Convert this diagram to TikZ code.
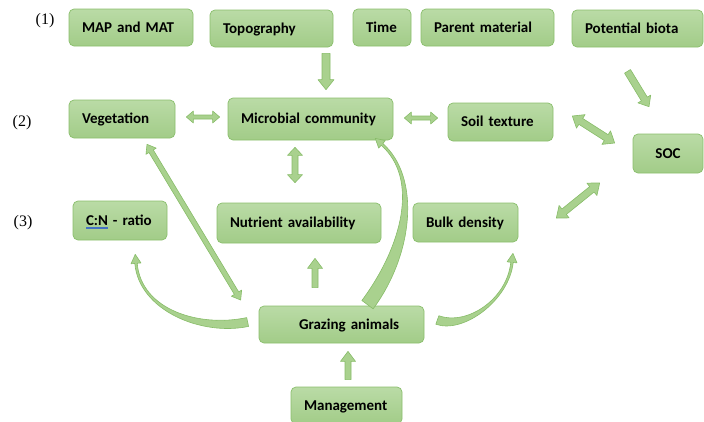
\documentclass[tikz,border=0pt]{standalone}
\usepackage{fontspec}
\setmainfont{Carlito}
\newfontfamily\levelfont{Liberation Serif}
\usepackage{tikz}
\usetikzlibrary{calc}
\definecolor{boxtop}{RGB}{186,219,166}
\definecolor{boxbottom}{RGB}{162,204,136}
\definecolor{boxline}{RGB}{138,190,108}
\definecolor{arrowfill}{RGB}{169,209,142}
\definecolor{arrowline}{RGB}{135,188,104}
\definecolor{spellblue}{RGB}{68,114,196}
\newcommand{\spellmark}[1]{\setbox0=\hbox{#1}\rlap{\color{spellblue}\rule[-2pt]{\wd0}{0.5pt}}\rlap{\color{spellblue}\rule[-3.6pt]{\wd0}{0.5pt}}\box0\relax}
% straight block arrow: from, to, half shaft, half head, head length
\newcommand{\singlearrow}[5]{%
  \coordinate (neckb) at ($(#2)!#5!(#1)$);
  \filldraw[arrowbody] ($(#1)!#3!90:(#2)$) -- ($(neckb)!#3!90:(#2)$) -- ($(neckb)!#4!90:(#2)$) -- (#2)
    -- ($(neckb)!#4!-90:(#2)$) -- ($(neckb)!#3!-90:(#2)$) -- ($(#1)!#3!-90:(#2)$) -- cycle;}
\newcommand{\doublearrow}[5]{%
  \coordinate (necka) at ($(#1)!#5!(#2)$);
  \coordinate (neckb) at ($(#2)!#5!(#1)$);
  \filldraw[arrowbody] (#1) -- ($(necka)!#4!90:(#2)$) -- ($(necka)!#3!90:(#2)$) -- ($(neckb)!#3!90:(#2)$)
    -- ($(neckb)!#4!90:(#2)$) -- (#2) -- ($(neckb)!#4!-90:(#2)$) -- ($(neckb)!#3!-90:(#2)$)
    -- ($(necka)!#3!-90:(#2)$) -- ($(necka)!#4!-90:(#2)$) -- cycle;}
% tapered curved arrow: start, control, control, neck, half base
\newcommand{\curvedarrow}[5]{%
  \filldraw[arrowbody] ($(#1)!#5!90:(#2)$) .. controls ($(#2)!#5!-90:(#1)$) and ($(#3)!1.2pt!90:(#4)$) .. ($(#4)!1.2pt!-90:(#3)$)
    -- ($(#4)!5pt!-90:(#3)$) -- ($(#4)!-9pt!(#3)$) -- ($(#4)!5pt!90:(#3)$) -- ($(#4)!1.2pt!90:(#3)$)
    .. controls ($(#3)!1.2pt!-90:(#4)$) and ($(#2)!#5!90:(#1)$) .. ($(#1)!#5!-90:(#2)$) -- cycle;}
\tikzstyle{factor}=[rectangle, rounded corners=5pt, draw=boxline, line width=0.7pt,
                    top color=boxtop, bottom color=boxbottom, align=left,
                    font=\bfseries\fontsize{15}{18}\selectfont,
                    inner xsep=13pt, inner ysep=0pt, text height=9.5pt, text depth=0pt]
\tikzstyle{level}=[font=\levelfont\fontsize{16}{19}\selectfont, inner sep=0]
\tikzstyle{arrowbody}=[fill=arrowfill, draw=arrowline, line width=0.6pt, line join=round]

\begin{document}
\begin{tikzpicture}[x=1pt, y=-1pt]
    \useasboundingbox (0,0) rectangle (704,421);
    % levels
    \node[level] (l1) at (45,21) {(1)};
    \node[level] (l2) at (22,123) {(2)};
    \node[level] (l3) at (23,223) {(3)};
    % factors
    \node[factor, text width=98pt, minimum height=37pt] (map) at (131,27.5) {MAP and MAT};
    \node[factor, text width=97pt, minimum height=37pt] (topo) at (271.5,28.5) {Topography};
    \node[factor, text width=32pt, minimum height=37pt] (time) at (382,27.5) {Time};
    \node[factor, text width=107pt, minimum height=37pt] (parent) at (487.5,27.5) {Parent material};
    \node[factor, text width=105pt, minimum height=37pt] (biota) at (637.5,28.5) {Potential biota};
    \node[factor, text width=80pt, minimum height=38pt] (veg) at (122,119) {Vegetation};
    \node[factor, text width=139pt, minimum height=42pt] (micro) at (310.5,119) {Microbial community};
    \node[factor, text width=79pt, minimum height=38pt] (soil) at (500.5,122) {Soil texture};
    \node[factor, text width=44pt, minimum height=39pt, align=center] (soc) at (668,153.5) {SOC};
    \node[factor, text width=79pt, minimum height=39pt] (bulk) at (465.5,222.5) {Bulk density};
    \node[factor, text width=68pt, minimum height=39pt] (cn) at (120,220.5) {\spellmark{C:N} - ratio};
    \node[factor, text width=138pt, minimum height=40pt] (nutri) at (299,223) {Nutrient availability};
    \node[factor, text width=139pt, minimum height=37pt] (graze) at (341.5,324.5) {\hspace*{27pt}Grazing animals};
    \node[factor, text width=85pt, minimum height=37pt] (manage) at (346.5,405.5) {Management};
    % straight links
    \coordinate (topo-out) at ($(topo.south)+(54.5,6)$);
    \coordinate (micro-top) at ($(micro.north)+(15.5,-8)$);
    \singlearrow{topo-out}{micro-top}{4pt}{8pt}{10pt}
    \coordinate (veg-right) at ($(veg.east)+(11,-2)$);
    \coordinate (micro-left) at ($(micro.west)+(-8,-2)$);
    \doublearrow{veg-right}{micro-left}{2pt}{6pt}{7pt}
    \coordinate (micro-right) at ($(micro.east)+(11,-1)$);
    \coordinate (soil-left) at ($(soil.west)+(-10,-4)$);
    \doublearrow{micro-right}{soil-left}{2pt}{6pt}{7pt}
    \coordinate (micro-bottom) at ($(micro.south)+(-15.5,7)$);
    \coordinate (nutri-top) at ($(nutri.north)+(-4,-20)$);
    \doublearrow{micro-bottom}{nutri-top}{3pt}{7.5pt}{8pt}
    \coordinate (biota-out) at ($(biota.south)+(-10,24)$);
    \coordinate (soc-top) at ($(soc.north)+(-19,-27)$);
    \singlearrow{biota-out}{soc-top}{3.5pt}{7.5pt}{9pt}
    \coordinate (soil-right) at ($(soil.east)+(19,-6)$);
    \coordinate (soc-left) at ($(soc.west)+(-18,-10.5)$);
    \doublearrow{soil-right}{soc-left}{3.5pt}{8pt}{10pt}
    \coordinate (soc-low) at ($(soc.west)+(-33,29.5)$);
    \coordinate (bulk-right) at ($(bulk.east)+(38,-4.5)$);
    \doublearrow{soc-low}{bulk-right}{3.5pt}{8pt}{10pt}
    \coordinate (veg-bottom) at ($(veg.south)+(25,6)$);
    \coordinate (graze-corner) at ($(graze.west)+(-18,-24.5)$);
    \doublearrow{veg-bottom}{graze-corner}{2.5pt}{6pt}{8pt}
    \coordinate (graze-top) at ($(graze.north)+(-26.5,-18)$);
    \coordinate (nutri-bottom) at ($(nutri.south)+(16,15)$);
    \singlearrow{graze-top}{nutri-bottom}{3pt}{7.5pt}{10pt}
    \coordinate (manage-top) at ($(manage.north)+(1.5,-7)$);
    \coordinate (graze-bottom) at ($(graze.south)+(6.5,8)$);
    \singlearrow{manage-top}{graze-bottom}{3pt}{7.5pt}{10pt}
    % curved links
    \coordinate (graze-up) at ($(graze.north)+(26,-1)$);
    \coordinate (micro-corner) at ($(micro.south)+(71.5,4)$);
    \curvedarrow{graze-up}{408,250}{420,178}{micro-corner}{7pt}
    \coordinate (graze-left) at ($(graze.west)+(-11,-2.5)$);
    \coordinate (cn-bottom) at ($(cn.south)+(16,23)$);
    \curvedarrow{graze-left}{200,332}{140,310}{cn-bottom}{4.5pt}
    \coordinate (graze-right) at ($(graze.east)+(13,-4.5)$);
    \coordinate (bulk-bottom) at ($(bulk.south)+(46.5,20)$);
    \curvedarrow{graze-right}{465,330}{508,300}{bulk-bottom}{4.5pt}
\end{tikzpicture}
\end{document}
